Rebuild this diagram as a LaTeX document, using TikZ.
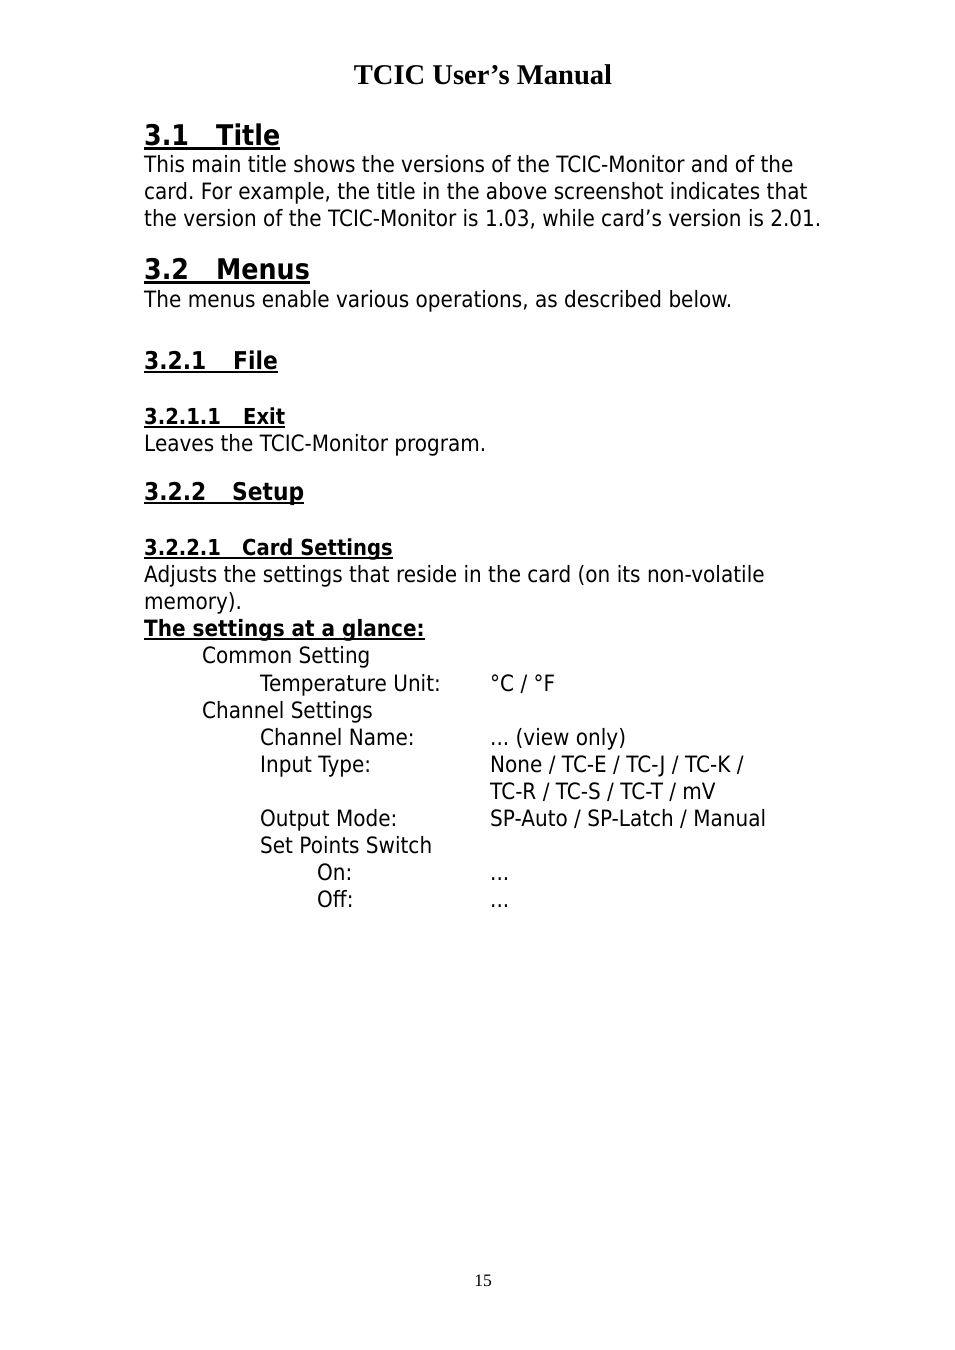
\documentclass[tikz,border=0pt]{standalone}
\usepackage{fontspec}
\setmainfont{DejaVu Sans}[FakeStretch=0.89]
\newfontfamily\manualfont{Liberation Serif}
\frenchspacing

\begin{document}
\begin{tikzpicture}[x=1pt, y=-1pt,
    txt/.style={anchor=base west, inner sep=0pt, font=\fontsize{22.5}{27}\selectfont},
    boldtxt/.style={txt, font=\fontsize{22.5}{27}\selectfont\bfseries},
    htwo/.style={anchor=base west, inner sep=0pt, font=\fontsize{28.5}{34}\selectfont\bfseries},
    hthree/.style={anchor=base west, inner sep=0pt, font=\fontsize{24.5}{29}\selectfont\bfseries},
    hfour/.style={anchor=base west, inner sep=0pt, font=\fontsize{22}{27}\selectfont\bfseries},
    uline/.style={line width=2.2pt},
    ulinesmall/.style={line width=1.8pt}]

\useasboundingbox (0,0) rectangle (954,1350);

% running head
\node[anchor=base, inner sep=0pt, font=\manualfont\fontsize{28.6}{34}\selectfont\bfseries] (head) at (483,84) {TCIC User’s Manual};

% 3.1 Title
\node[htwo] (n31) at (144,145) {3.1};
\node[htwo] (t31) at (216,145) {Title};
\draw[uline] ([yshift=-3.5pt]n31.base west) -- ([yshift=-3.5pt]t31.base east);
\node[txt] (title1) at (144,172) {This main title shows the versions of the TCIC-Monitor and of the};
\node[txt] (title2) at (144,199) {card. For example, the title in the above screenshot indicates that};
\node[txt] (title3) at (144,226) {the version of the TCIC-Monitor is 1.03, while card’s version is 2.01.};

% 3.2 Menus
\node[htwo] (n32) at (144,279) {3.2};
\node[htwo] (t32) at (216,279) {Menus};
\draw[uline] ([yshift=-3.5pt]n32.base west) -- ([yshift=-3.5pt]t32.base east);
\node[txt] (menus1) at (144,307) {The menus enable various operations, as described below.};

% 3.2.1 File
\node[hthree] (n321) at (144,369) {3.2.1};
\node[hthree] (t321) at (233,369) {File};
\draw[uline] ([yshift=-3.2pt]n321.base west) -- ([yshift=-3.2pt]t321.base east);

\node[hfour] (n3211) at (144,424) {3.2.1.1};
\node[hfour] (t3211) at (243,424) {Exit};
\draw[ulinesmall] ([yshift=-3pt]n3211.base west) -- ([yshift=-3pt]t3211.base east);
\node[txt] (exit1) at (144,451) {Leaves the TCIC-Monitor program.};

% 3.2.2 Setup
\node[hthree] (n322) at (144,500) {3.2.2};
\node[hthree] (t322) at (232,500) {Setup};
\draw[uline] ([yshift=-3.2pt]n322.base west) -- ([yshift=-3.2pt]t322.base east);

\node[hfour] (n3221) at (144,555) {3.2.2.1};
\node[hfour] (t3221) at (242,555) {Card Settings};
\draw[ulinesmall] ([yshift=-3pt]n3221.base west) -- ([yshift=-3pt]t3221.base east);
\node[txt] (card1) at (144,582) {Adjusts the settings that reside in the card (on its non-volatile};
\node[txt] (card2) at (144,609) {memory).};

\node[boldtxt] (glance) at (144,636) {The settings at a glance:};
\draw[ulinesmall] ([yshift=-3pt]glance.base west) -- ([yshift=-3pt]glance.base east);

% settings list
\node[txt] (common) at (202,663) {Common Setting};
\node[txt] (tempunit) at (260,691) {Temperature Unit:};
\node[txt] (tempval) at (490,691) {°C / °F};
\node[txt] (channel) at (202,718) {Channel Settings};
\node[txt] (chname) at (260,745) {Channel Name:};
\node[txt] (chnameval) at (490,745) {... (view only)};
\node[txt] (intype) at (260,772) {Input Type:};
\node[txt] (intypeval) at (490,772) {None / TC-E / TC-J / TC-K /};
\node[txt] (intypeval2) at (490,799) {TC-R / TC-S / TC-T / mV};
\node[txt] (outmode) at (260,826) {Output Mode:};
\node[txt] (outmodeval) at (490,826) {SP-Auto / SP-Latch / Manual};
\node[txt] (spswitch) at (260,853) {Set Points Switch};
\node[txt] (spon) at (317,880) {On:};
\node[txt] (sponval) at (490,880) {...};
\node[txt] (spoff) at (317,907) {Off:};
\node[txt] (spoffval) at (490,907) {...};

% page number
\node[anchor=base, inner sep=0pt, font=\manualfont\fontsize{17.5}{20}\selectfont] (pagenum) at (483,1286) {15};
\end{tikzpicture}
\end{document}
